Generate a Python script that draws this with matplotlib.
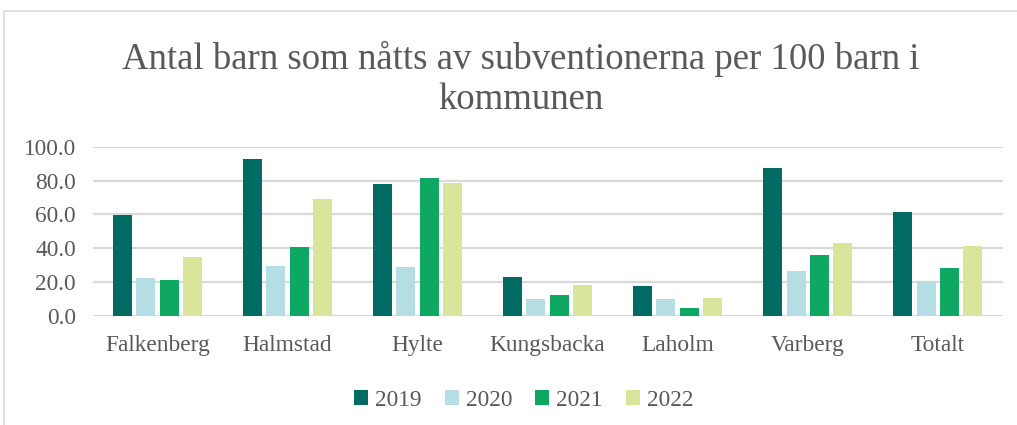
import numpy as np
import matplotlib.pyplot as plt
from matplotlib.patches import Rectangle

kommuner = ["Falkenberg", "Halmstad", "Hylte", "Kungsbacka", "Laholm", "Varberg", "Totalt"]
years = ["2019", "2020", "2021", "2022"]
v2019 = [59.6, 92.7, 77.9, 22.9, 17.7, 87.4, 61.3]
v2020 = [22.3, 29.4, 28.8, 9.9, 9.8, 26.4, 20.5]
v2021 = [21.1, 40.6, 81.5, 12.2, 4.5, 35.9, 28.2]
v2022 = [34.7, 69.0, 78.5, 18.1, 10.5, 43.0, 41.2]
colors = ["#006b63", "#b4dde4", "#0ea862", "#d9e59b"]

serif = ["Liberation Serif", "DejaVu Serif"]
text_color = "#595959"

fig = plt.figure(figsize=(10.17, 4.25), dpi=100)
ax = fig.add_axes([0.091, 0.2565, 0.895, 0.398])

x = np.arange(len(kommuner))
pitch = 0.18
width = 0.146
for i, (vals, year) in enumerate(zip([v2019, v2020, v2021, v2022], years)):
    ax.bar(x + (i - 1.5) * pitch, vals, width, color=colors[i], label=year, zorder=3)

ax.set_xlim(-0.5, len(kommuner) - 0.5)
ax.set_ylim(0, 100)
ax.set_yticks(np.arange(0, 101, 20))
ax.set_yticklabels([f"{v:.1f}" for v in np.arange(0, 101, 20)])
ax.set_xticks(x)
ax.set_xticklabels(kommuner)
ax.grid(axis="y", color="#d9d9d9", linewidth=1.6, zorder=0)
ax.tick_params(length=0, colors=text_color, labelsize=16.8)
ax.tick_params(axis="x", pad=14)
ax.tick_params(axis="y", pad=12)
for lbl in ax.get_xticklabels() + ax.get_yticklabels():
    lbl.set_family(serif)
for s in ax.spines.values():
    s.set_visible(False)

fig.suptitle("Antal barn som nåtts av subventionerna per 100 barn i\nkommunen",
             x=0.512, y=0.903, fontsize=26.5, color=text_color, family=serif,
             linespacing=1.2)

leg = fig.legend(loc="center", bbox_to_anchor=(0.515, 0.058), ncol=4, frameon=False,
                 prop={"family": serif, "size": 16.8}, handlelength=0.6, handleheight=0.6,
                 columnspacing=1.0, handletextpad=0.3)
for t in leg.get_texts():
    t.set_color(text_color)

# chart border (cropped at right and bottom)
fig.patches.append(Rectangle((4 / 1017, -0.1), 1.2, 1.1 - 11 / 425,
                             transform=fig.transFigure, fill=False,
                             edgecolor="#d9d9d9", linewidth=1.2))

fig.savefig("out.png", dpi=100)
